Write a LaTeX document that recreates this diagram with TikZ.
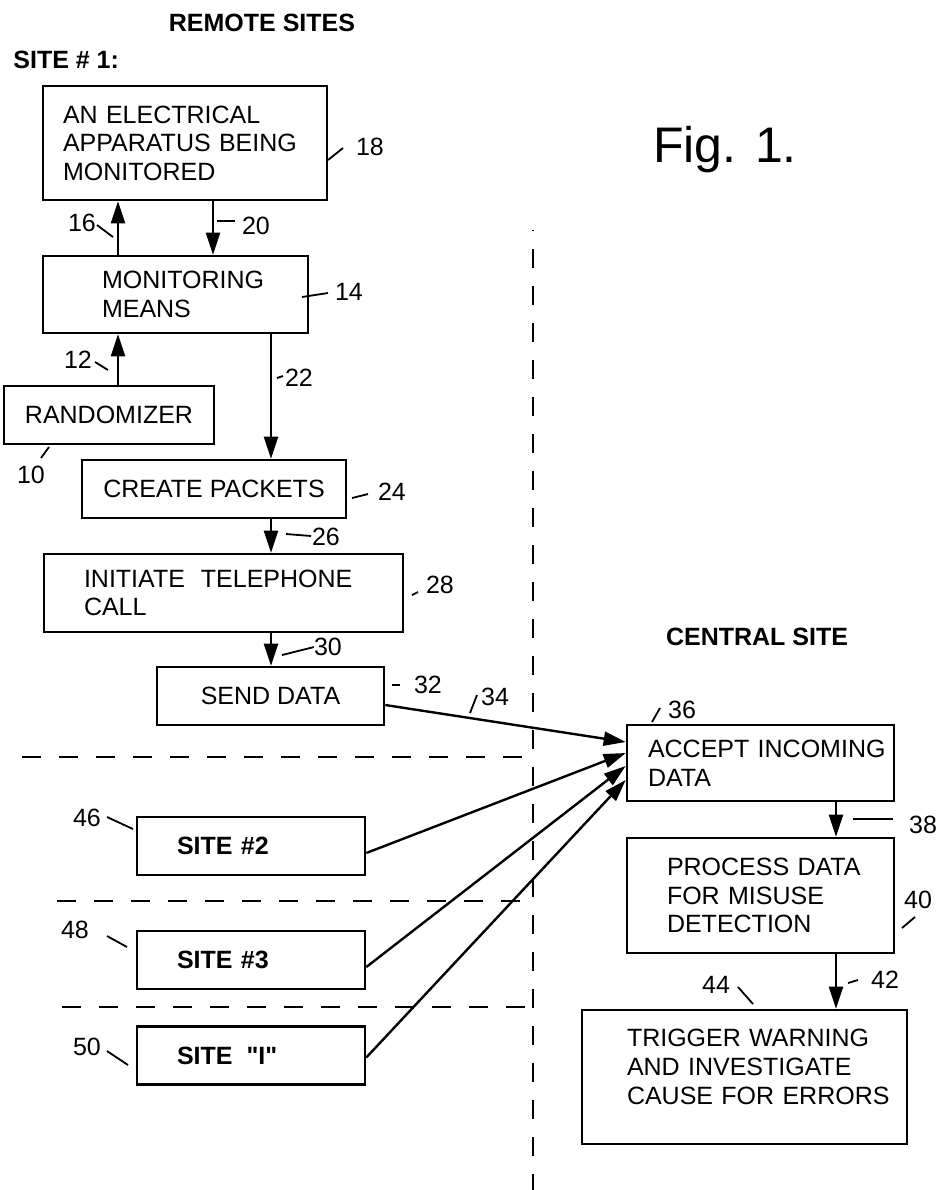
\documentclass[tikz,border=0pt]{standalone}
\usepackage{fontspec}
\setmainfont{Liberation Sans}
\usepackage{tikz}
\usetikzlibrary{positioning, calc, arrows.meta}
\hyphenpenalty=10000
\exhyphenpenalty=10000
\tikzset{
    base/.style={
        font=\fontsize{12.5}{14.3}\selectfont,
        inner sep=0pt
    },
    block/.style={
        base,
        rectangle,
        draw=black,
        line width=1.3pt,
        align=left
    },
    sitebox/.style={
        block,
        font=\fontsize{12.5}{14.3}\selectfont\bfseries,
        text width=74pt,
        inner xsep=20pt,
        minimum height=29pt
    },
    heading/.style={
        base,
        font=\fontsize{12.5}{14.3}\selectfont\bfseries
    },
    refnum/.style={
        base
    },
    flow/.style={
        -{Triangle[length=11pt, width=7pt]},
        line width=1.2pt
    },
    lead/.style={
        line width=0.9pt
    },
    divider/.style={
        line width=1.3pt,
        dash pattern=on 9.5pt off 9pt
    }
}

\begin{document}
\begin{tikzpicture}[x=0.5pt, y=-0.5pt]
  \useasboundingbox (0,0) rectangle (941,1190);

  % Headings
  \node[heading] (remote) at (262,23) {REMOTE SITES};
  \node[heading, anchor=west] (site1) at (13,60) {SITE \# 1:};
  \node[base, font=\fontsize{25}{30}\selectfont] (fig) at (725,150) {Fig. 1.};
  \node[heading] (central) at (757,637) {CENTRAL SITE};

  % Site 1
  \node[block, text width=122pt, inner xsep=10pt, minimum height=57pt] (app) at (185,143)
    {AN ELECTRICAL\\APPARATUS BEING\\MONITORED};
  \node[block, text width=73.5pt, inner xsep=29.5pt, minimum height=38.5pt] (mon) at (175.5,294.5)
    {MONITORING\\MEANS};
  \node[block, align=center, minimum width=105pt, minimum height=29pt] (rnd) at (109,415) {RANDOMIZER};
  \node[block, align=center, minimum width=132pt, minimum height=29pt] (pkt) at (214,489) {CREATE PACKETS};
  \node[block, text width=139.5pt, inner xsep=20pt, minimum height=39pt] (call) at (223.5,593)
    {INITIATE\hspace{8pt}TELEPHONE\\CALL};
  \node[block, align=center, minimum width=113.5pt, minimum height=29pt] (send) at (270.5,696) {SEND DATA};

  % Other sites
  \node[sitebox] (site2) at (251,846) {SITE \#2};
  \node[sitebox] (site3) at (251,960) {SITE \#3};
  \node[sitebox] (siteI) at (251,1055.5) {SITE\hspace{7pt}\textquotedbl I\textquotedbl};

  % Central site
  \node[block, text width=112.5pt, inner xsep=10.5pt, minimum height=38pt] (acc) at (760.5,763)
    {\mbox{ACCEPT INCOMING}\\DATA};
  \node[block, text width=93.5pt, inner xsep=20pt, minimum height=57.5pt] (proc) at (760.5,895.5)
    {\mbox{PROCESS DATA}\\FOR MISUSE\\DETECTION};
  \node[block, text width=117.5pt, inner xsep=22.5pt, minimum height=67pt] (trig) at (744.5,1077)
    {\mbox{TRIGGER WARNING}\\\mbox{AND INVESTIGATE}\\\mbox{CAUSE FOR ERRORS}\\[-4pt]\mbox{}};

  % Dividers
  \draw[divider, dash phase=9pt] (533,230) -- (533,1205);
  \draw[divider] (22,757) -- (533,757);
  \draw[divider] (57,901) -- (533,901);
  \draw[divider] (62,1007) -- (533,1007);

  % Arrows
  \coordinate (col16) at (118,0);
  \coordinate (col20) at (213,0);
  \coordinate (col22) at (271,0);
  \coordinate (col38) at (836,0);
  \draw[flow] (mon.north -| col16) -- (app.south -| col16);
  \draw[flow] (app.south -| col20) -- (mon.north -| col20);
  \draw[flow] (rnd.north -| col16) -- (mon.south -| col16);
  \draw[flow] (mon.south -| col22) -- (pkt.north -| col22);
  \draw[flow] (pkt.south -| col22) -- (call.north -| col22);
  \draw[flow] (call.south -| col22) -- (send.north -| col22);
  \draw[flow] ([yshift=-4.5pt]send.east) -- ([yshift=10.5pt]acc.west);
  \draw[flow] ([yshift=-3.5pt]site2.east) -- ([yshift=5pt]acc.west);
  \draw[flow] ([yshift=-3.5pt]site3.east) -- ([yshift=-1.5pt]acc.west);
  \draw[flow] ([yshift=-1pt]siteI.east) -- ([yshift=-8.5pt]acc.west);
  \draw[flow] (acc.south -| col38) -- (proc.north -| col38);
  \draw[flow] (proc.south -| col38) -- (trig.north -| col38);

  % Reference numerals
  \node[refnum] (n18) at (370,147) {18};
  \node[refnum] (n16) at (82,223) {16};
  \node[refnum] (n20) at (256,226) {20};
  \node[refnum] (n14) at (349,292) {14};
  \node[refnum] (n12) at (78,360) {12};
  \node[refnum] (n22) at (299,378) {22};
  \node[refnum] (n10) at (31,475) {10};
  \node[refnum] (n24) at (392,492) {24};
  \node[refnum] (n26) at (326,537) {26};
  \node[refnum] (n28) at (440,585) {28};
  \node[refnum] (n30) at (328,647) {30};
  \node[refnum] (n32) at (428,685) {32};
  \node[refnum] (n34) at (495,697) {34};
  \node[refnum] (n36) at (682,710) {36};
  \node[refnum] (n38) at (923,825) {38};
  \node[refnum] (n40) at (918,900) {40};
  \node[refnum] (n42) at (885,980) {42};
  \node[refnum] (n44) at (716,985) {44};
  \node[refnum] (n46) at (87,818) {46};
  \node[refnum] (n48) at (75,930) {48};
  \node[refnum] (n50) at (87,1047) {50};

  % Leader ticks
  \draw[lead] (328,160) -- (343,148);
  \draw[lead] (97,225) -- (113,237);
  \draw[lead] (217,221) -- (235,221);
  \draw[lead] (302,297) -- (328,293);
  \draw[lead] (95,362) -- (108,370);
  \draw[lead] (277,378) -- (283,376);
  \draw[lead] (41,458) -- (49,447);
  \draw[lead] (352,498) -- (368,494);
  \draw[lead] (286,534) -- (311,536);
  \draw[lead] (412,595) -- (418,592);
  \draw[lead] (282,655) -- (314,647);
  \draw[lead] (392,685) -- (400,685);
  \draw[lead] (470,713) -- (477,695);
  \draw[lead] (652,722) -- (660,708);
  \draw[lead] (853,819) -- (893,819);
  \draw[lead] (902,928) -- (915,917);
  \draw[lead] (848,983) -- (858,980);
  \draw[lead] (738,987) -- (753,1004);
  \draw[lead] (107,817) -- (133,829);
  \draw[lead] (107,936) -- (127,947);
  \draw[lead] (107,1051) -- (128,1065);
\end{tikzpicture}
\end{document}
